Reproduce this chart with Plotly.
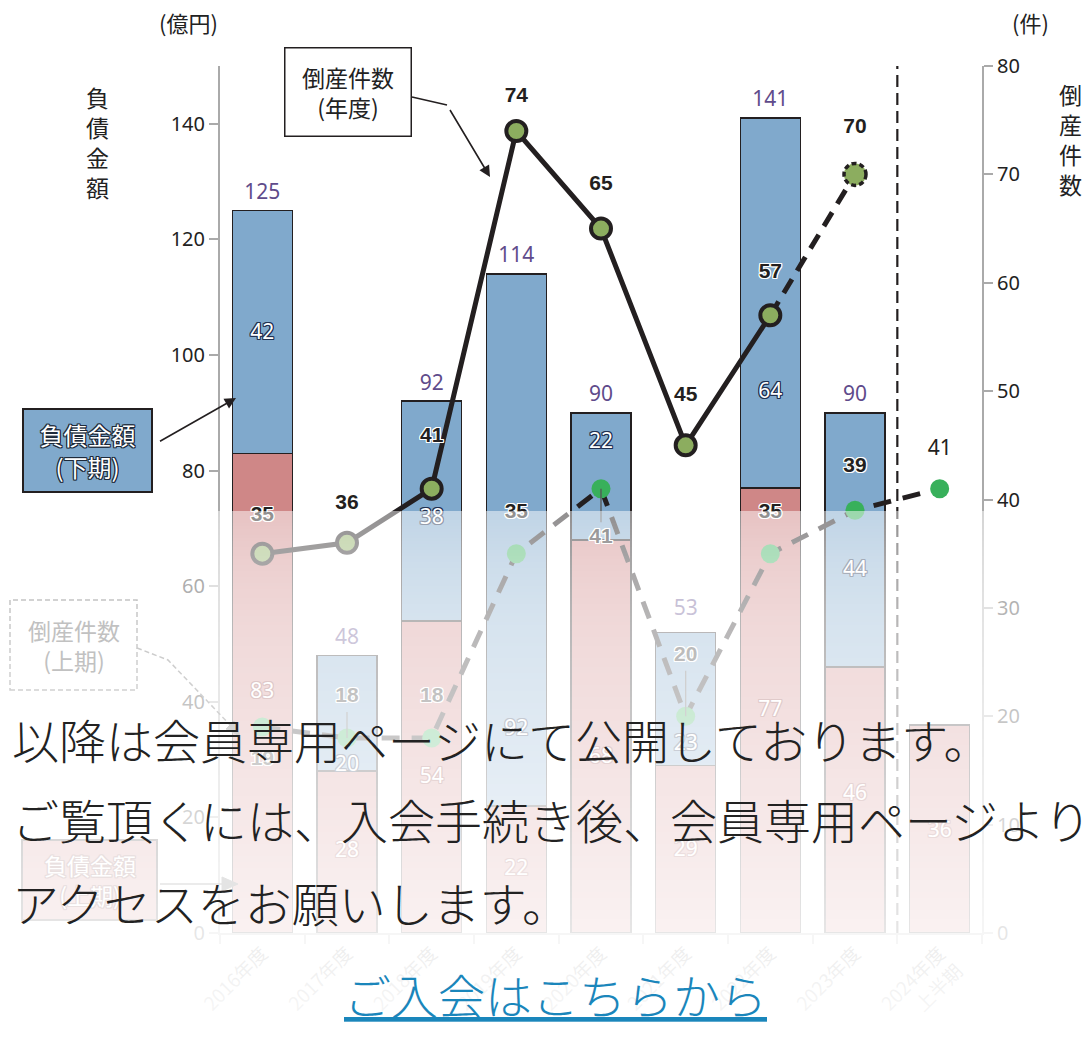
import numpy as np
import plotly.graph_objects as go

# ---------------- data ----------------
categories = ["2016年度", "2017年度", "2018年度", "2019年度", "2020年度",
              "2021年度", "2022年度", "2023年度", "2024年度<br>上半期"]
debt_first = [83, 28, 54, 22, 68, 29, 77, 46, 36]          # 負債金額（上期）
debt_second = [42, 20, 38, 92, 22, 23, 64, 44, None]       # 負債金額（下期）
debt_total = [125, 48, 92, 114, 90, 53, 141, 90, None]      # 負債金額 合計
count_year = [35, 36, 41, 74, 65, 45, 57, 70]               # 倒産件数（年度）
count_first = [19, 18, 18, 35, 41, 20, 35, 39, 41]          # 倒産件数（上期）

# ---------------- label placement (style, not data) ----------------
blue_label_pos = [103.7, 29.0, 71.7, 35.1, 84.9, 32.5, 93.5, 62.7, None]
red_label_pos = [41.5, 14.0, 26.8, 10.9, 30.4, 14.3, 38.5, 23.9, 17.5]
year_label_pos = [38.5, 39.6, 45.8, 77.2, 69.0, 49.6, 60.9, 74.3]
first_label_pos = [16.0, 21.8, 21.8, 38.8, 36.5, 25.6, 38.8, 43.0, 44.6]
total_label_lift = 1.1
leader_idx = [1, 4, 5]

W, H = 1089, 1045
L, R, T, B = 220, 107, 66, 112
PW, PH = W - L - R, H - T - B

def px(x):
    return (x - L) / PW

def py(y):
    return (H - B - y) / PH

FONT = "Noto Sans CJK JP, Noto Sans, sans-serif"
NUMF = "Noto Sans, Noto Sans CJK JP, sans-serif"
BOLDF = "Liberation Sans, Arial, sans-serif"
BLACK = "#231f20"
BLUE = "#80a9cc"
RED = "#cf8787"
GREEN_Y = "#8cad5f"
GREEN_F = "#38b05b"

# fade profile of the white veil (pixel row -> white opacity)
FADE_TOP = 511
stops_y = [511, 560, 613, 665, 800, 920, 1000, 1045]
stops_a = [0.50, 0.60, 0.67, 0.71, 0.80, 0.88, 0.94, 0.96]

def veil(y):
    return float(np.interp(y, stops_y, stops_a)) if y >= FADE_TOP else 0.0

def fade(hexcol, y):
    a = veil(y)
    h = hexcol.lstrip("#")
    r, g, b = (int(h[i:i + 2], 16) for i in (0, 2, 4))
    f = lambda c: int(round(c + (255 - c) * a))
    return f"#{f(r):02x}{f(g):02x}{f(b):02x}"

def outline(c, w=1):
    return ", ".join(f"{a}px {b}px 0 {c}" for a in (-w, 0, w) for b in (-w, 0, w) if (a, b) != (0, 0))

x = list(range(len(categories)))
fig = go.Figure()

fig.add_bar(x=x, y=debt_first, width=0.71, marker=dict(color=RED, line=dict(color=BLACK, width=1.5)),
            yaxis="y", showlegend=False, hoverinfo="skip")
fig.add_bar(x=x, y=debt_second, width=0.71, marker=dict(color=BLUE, line=dict(color=BLACK, width=1.5)),
            yaxis="y", showlegend=False, hoverinfo="skip")

# vertical dashed separator between 2023 and 2024
fig.add_scatter(x=[7.5, 7.5], y=[0, 150], mode="lines", line=dict(color=BLACK, width=2.2, dash="12px,6px"),
                yaxis="y", showlegend=False, hoverinfo="skip")

# first-half count line
fig.add_scatter(x=x, y=count_first, mode="lines+markers", yaxis="y2",
                line=dict(color=BLACK, width=5, dash="18px,12px"),
                marker=dict(size=19, color=GREEN_F, line=dict(width=0)),
                showlegend=False, hoverinfo="skip")

# annual count line
fig.add_scatter(x=x[6:8], y=count_year[6:8], mode="lines", yaxis="y2",
                line=dict(color=BLACK, width=5, dash="16px,10px"), showlegend=False, hoverinfo="skip")
fig.add_scatter(x=x[:7], y=count_year[:7], mode="lines+markers", yaxis="y2",
                line=dict(color=BLACK, width=5),
                marker=dict(size=20, color=GREEN_Y, line=dict(color=BLACK, width=4)),
                showlegend=False, hoverinfo="skip")

# leader lines for a few first-half labels
for i in leader_idx:
    lab = first_label_pos[i]
    v = count_first[i]
    start = lab + (1.4 if lab < v else -1.4)
    fig.add_scatter(x=[i, i], y=[start, v], mode="lines", yaxis="y2",
                    line=dict(color="#555", width=1.3), showlegend=False, hoverinfo="skip")

# totals
fig.add_scatter(x=x, y=[(v + total_label_lift) if v else None for v in debt_total], mode="text",
                text=[str(v) if v else "" for v in debt_total],
                textposition="top center", yaxis="y", cliponaxis=False,
                textfont=dict(family=NUMF, size=21, color="#5f4b8b"), showlegend=False, hoverinfo="skip")
# segment labels
fig.add_scatter(x=x, y=blue_label_pos, mode="text", text=[str(v) if v else "" for v in debt_second],
                textposition="middle center", yaxis="y", cliponaxis=False,
                textfont=dict(family=NUMF, size=21, color="white", shadow=outline("#1f3050")),
                showlegend=False, hoverinfo="skip")
fig.add_scatter(x=x, y=red_label_pos, mode="text", text=[str(v) for v in debt_first],
                textposition="middle center", yaxis="y", cliponaxis=False,
                textfont=dict(family=NUMF, size=21, color="white", shadow=outline("#8a3a3a")),
                showlegend=False, hoverinfo="skip")
# count labels
fig.add_scatter(x=x[:8], y=year_label_pos, mode="text", text=[str(v) for v in count_year],
                textposition="middle center", yaxis="y2", cliponaxis=False,
                textfont=dict(family=BOLDF, size=21, color=BLACK, weight="bold", shadow=outline("white")),
                showlegend=False, hoverinfo="skip")
fig.add_scatter(x=x[:8], y=first_label_pos[:8], mode="text", text=[str(v) for v in count_first[:8]],
                textposition="middle center", yaxis="y2", cliponaxis=False,
                textfont=dict(family=BOLDF, size=21, color=BLACK, weight="bold", shadow=outline("white")),
                showlegend=False, hoverinfo="skip")
fig.add_scatter(x=x[8:], y=first_label_pos[8:], mode="text", text=[str(v) for v in count_first[8:]],
                textposition="middle center", yaxis="y2", cliponaxis=False,
                textfont=dict(family=NUMF, size=21, color=BLACK),
                showlegend=False, hoverinfo="skip")

shapes = []
# callout boxes in faded zone (drawn before the veil so they fade)
shapes.append(dict(type="rect", xref="paper", yref="paper", x0=px(10), x1=px(137), y0=py(690), y1=py(600),
                   line=dict(color="#555", width=1.5, dash="5px,3px"), fillcolor="rgba(0,0,0,0)", layer="above"))
shapes.append(dict(type="path", xref="paper", yref="paper",
                   path=f"M {px(137)},{py(648)} L {px(168)},{py(660)} L {px(232)},{py(727)}",
                   line=dict(color="#555", width=1.5, dash="5px,3px"), layer="above"))
shapes.append(dict(type="path", xref="paper", yref="paper",
                   path=f"M {px(240)},{py(736)} L {px(226)},{py(729)} L {px(234)},{py(721)} Z",
                   line=dict(color="#555", width=1), fillcolor="#555", layer="above"))
shapes.append(dict(type="rect", xref="paper", yref="paper", x0=px(22), x1=px(157), y0=py(920), y1=py(840),
                   line=dict(color=BLACK, width=2), fillcolor=RED, layer="above"))
shapes.append(dict(type="line", xref="paper", yref="paper", x0=px(160), x1=px(225), y0=py(884), y1=py(884),
                   line=dict(color="#444", width=1.5), layer="above"))
shapes.append(dict(type="path", xref="paper", yref="paper",
                   path=f"M {px(238)},{py(884)} L {px(222)},{py(877)} L {px(222)},{py(891)} Z",
                   line=dict(color="#444", width=1), fillcolor="#444", layer="above"))
# leader of 倒産件数(年度) callout
shapes.append(dict(type="line", xref="paper", yref="paper", x0=px(412), x1=px(447), y0=py(97), y1=py(105),
                   line=dict(color=BLACK, width=1.6), layer="above"))

# white veil: adjacent strips, each with its own opacity
STEP = 3
for yy in range(FADE_TOP, H + STEP, STEP):
    a = veil(yy + STEP / 2)
    shapes.append(dict(type="rect", xref="paper", yref="paper", x0=px(-5), x1=px(W + 5),
                       y0=py(yy + STEP), y1=py(yy), line=dict(width=0),
                       fillcolor=f"rgba(255,255,255,{a:.4f})", layer="above"))

# dashed outline marker for 2023 annual count
shapes.append(dict(type="circle", xref="x", yref="y2", xsizemode="pixel", ysizemode="pixel",
                   xanchor=7, yanchor=count_year[7], x0=-11, x1=11, y0=-11, y1=11,
                   fillcolor=GREEN_Y, line=dict(color=BLACK, width=3.5, dash="5px,3px"), layer="above"))

def ann(text, xp, yp, size, color, weight=None, **kw):
    f = dict(family=FONT, size=size, color=color)
    if weight:
        f["weight"] = weight
    d = dict(text=text, x=px(xp), y=py(yp), xref="paper", yref="paper", showarrow=False,
             xanchor="center", yanchor="middle", font=f)
    d.update(kw)
    return d

annotations = [
    ann("(億円)", 188, 22, 22, "#222"),
    ann("(件)", 1030, 22, 22, "#222"),
    ann("負<br>債<br>金<br>額", 98, 142, 23, "#222"),
    ann("倒<br>産<br>件<br>数", 1070, 139, 23, "#222"),
    ann("倒産件数<br>(年度)", 348, 92, 23, "#222", bgcolor="white", bordercolor=BLACK,
        borderwidth=1.5, borderpad=0, width=125, height=87),
    dict(text=" ", x=px(490), y=py(177), xref="paper", yref="paper", showarrow=True,
         ax=-43, ay=-72, arrowhead=2, arrowsize=1.4, arrowwidth=1.6, arrowcolor=BLACK),
    dict(text="負債金額<br>(下期)", x=px(87.5), y=py(450.5), xref="paper", yref="paper", showarrow=False,
         xanchor="center", yanchor="middle",
         font=dict(family=FONT, size=24, color="white", shadow=outline("#1e2a3a")),
         bgcolor=BLUE, bordercolor=BLACK, borderwidth=2, borderpad=0, width=127, height=81),
    dict(text=" ", x=px(236), y=py(398), xref="paper", yref="paper", showarrow=True,
         ax=-79, ay=45, arrowhead=2, arrowsize=1.4, arrowwidth=1.6, arrowcolor=BLACK),
    # callouts inside the faded zone (colours pre-faded)
    ann("倒産件数<br>(上期)", 73.5, 645, 23, fade("#333333", 645)),
    dict(text="負債金額<br>(上期)", x=px(89.5), y=py(880), xref="paper", yref="paper", showarrow=False,
         xanchor="center", yanchor="middle",
         font=dict(family=FONT, size=23, color="white", shadow=outline(fade("#6a2a2a", 880)))),
    # members-only overlay message
    ann("以降は会員専用ページにて公開しております。", 10, 738, 47, "#222", weight=300, xanchor="left"),
    ann("ご覧頂くには、入会手続き後、会員専用ページより", 10, 818, 47, "#222", weight=300, xanchor="left"),
    ann("アクセスをお願いします。", 10, 901, 47, "#222", weight=300, xanchor="left"),
    ann("<u>ご入会はこちらから</u>", 555, 993, 47, "#1a86bb", weight=300),
]

axis_common = dict(showgrid=False, zeroline=False, showline=True, linecolor="#aaa", linewidth=2,
                   ticks="outside", ticklen=9, tickcolor="#aaa", tickwidth=2,
                   tickfont=dict(family=NUMF, size=20, color="#222"))

fig.update_layout(
    width=W, height=H, margin=dict(l=L, r=R, t=T, b=B, autoexpand=False),
    paper_bgcolor="white", plot_bgcolor="white", barmode="stack", showlegend=False,
    font=dict(family=FONT),
    xaxis=dict(range=[-0.5, 8.5], tickmode="array", tickvals=x, ticktext=categories, tickangle=-45,
               showgrid=False, zeroline=False, showline=True, linecolor="#aaa", linewidth=2, ticks="",
               tickfont=dict(family=FONT, size=19, color="#555"),
               minor=dict(tickmode="array", tickvals=[i - 0.5 for i in range(10)], ticks="outside",
                          ticklen=9, tickcolor="#aaa", tickwidth=2, showgrid=False)),
    yaxis=dict(range=[0, 150], tickmode="array", tickvals=list(range(0, 141, 20)), **axis_common),
    yaxis2=dict(range=[0, 80], tickmode="array", tickvals=list(range(0, 81, 10)), overlaying="y",
                side="right", **axis_common),
    shapes=shapes, annotations=annotations,
)

fig.write_html("out.html", config={"displayModeBar": False},
               post_script="document.body.style.margin='0px';")
